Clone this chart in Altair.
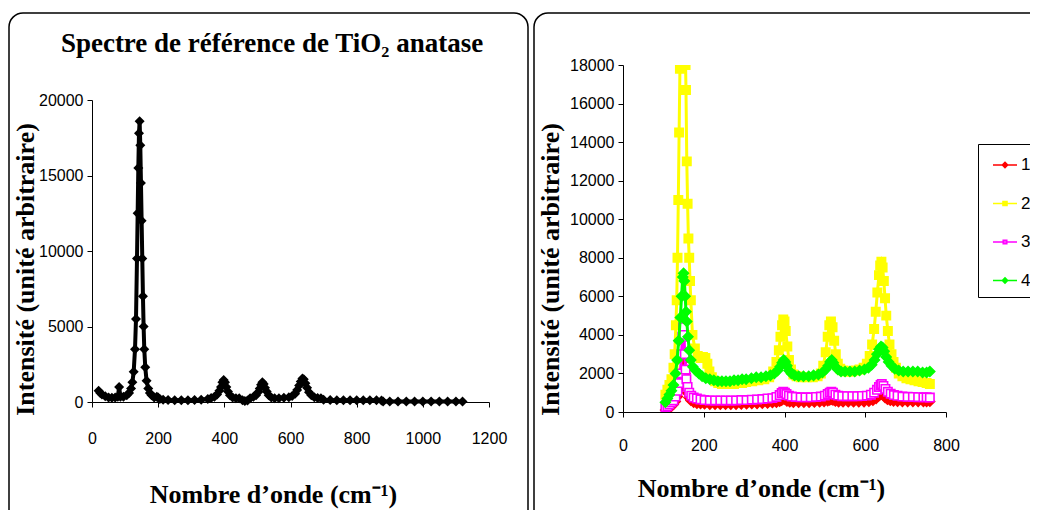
import altair as alt
import pandas as pd

# ---------------- data ----------------
REF_X = [20, 25, 30, 40, 50, 60, 70, 78, 82, 86,
         95, 105, 112, 118, 122, 126, 130, 133, 136, 138,
         140, 142, 144, 146, 148, 150, 152, 154, 156, 158,
         161, 165, 170, 175, 180, 188, 196, 200, 205, 215,
         230, 250, 270, 290, 310, 330, 350, 360, 370, 378,
         385, 390, 394, 398, 402, 406, 411, 417, 425, 435,
         445, 455, 462, 470, 478, 488, 496, 502, 507, 511,
         515, 519, 523, 528, 534, 542, 552, 565, 580, 595,
         605, 614, 620, 626, 631, 636, 640, 645, 650, 656,
         663, 672, 682, 692, 700, 720, 740, 760, 780, 800,
         820, 840, 860, 875, 880, 900, 925, 950, 975, 1000,
         1025, 1050, 1075, 1100, 1120]
REF_Y = [750, 600, 500, 380, 300, 280, 300, 350, 1000, 350,
         350, 450, 600, 900, 1300, 2000, 3500, 5500, 9500, 12500,
         15500, 17800, 18600, 17000, 14500, 12000, 9500, 7000, 5000, 3500,
         2300, 1400, 900, 600, 450, 300, 350, 300, 200, 150,
         130, 120, 120, 120, 130, 150, 200, 260, 350, 500,
         750, 1000, 1300, 1450, 1300, 1000, 700, 450, 300, 250,
         250, 120, 60, 100, 250, 350, 450, 650, 900, 1150,
         1300, 1200, 950, 700, 450, 300, 250, 250, 280, 320,
         400, 550, 800, 1100, 1350, 1550, 1500, 1250, 950, 650,
         450, 320, 260, 250, 150, 130, 120, 120, 120, 120,
         120, 120, 120, 100, 40, 40, 40, 40, 40, 40,
         40, 40, 40, 40, 40]

S1_X = [105, 110, 115, 120, 125, 130, 135, 140, 144, 147,
        150, 152, 154, 156, 159, 163, 168, 175, 183, 192,
        202, 215, 228, 241, 254, 267, 280, 293, 306, 319,
        332, 345, 358, 370, 380, 388, 393, 397, 401, 406,
        413, 422, 435, 448, 461, 474, 487, 498, 507, 512,
        516, 520, 526, 534, 545, 558, 571, 584, 597, 609,
        619, 627, 633, 637, 640, 644, 649, 655, 662, 670,
        680, 692, 705, 718, 731, 744, 752, 760]
S1_Y = [100, 150, 200, 300, 400, 550, 800, 1200, 2000, 2800,
        3000, 2700, 2000, 1400, 1000, 750, 600, 500, 450, 430,
        420, 400, 400, 400, 400, 400, 400, 410, 420, 430,
        440, 450, 460, 480, 500, 550, 600, 680, 650, 560,
        520, 500, 500, 500, 500, 510, 520, 540, 580, 620,
        650, 620, 560, 530, 520, 520, 520, 520, 530, 550,
        600, 700, 820, 900, 950, 880, 750, 650, 600, 570,
        550, 540, 540, 540, 540, 540, 540, 550]

S2_X = [105, 110, 115, 120, 125, 128, 131, 133, 135, 137,
        139, 141, 143, 150, 155, 156, 158, 160, 162, 164,
        166, 168, 172, 178, 185, 192, 198, 204, 209, 214,
        220, 228, 236, 245, 255, 265, 275, 285, 295, 305,
        320, 335, 350, 362, 372, 380, 386, 390, 394, 397,
        400, 403, 407, 411, 416, 422, 430, 440, 455, 470,
        482, 490, 496, 502, 507, 511, 515, 519, 523, 527,
        532, 538, 546, 556, 566, 576, 586, 596, 604, 611,
        617, 622, 626, 630, 634, 637, 640, 643, 646, 649,
        652, 656, 660, 665, 670, 676, 683, 692, 702, 712,
        722, 732, 742, 752, 760]
S2_Y = [900, 1150, 1400, 1700, 2300, 3000, 4500, 5800, 8000, 11000,
        14500, 17800, 21000, 23000, 18000, 16700, 13000, 10800, 9000, 8000,
        6800, 5800, 4000, 3300, 2900, 2800, 2850, 2800, 2500, 2100,
        1800, 1600, 1500, 1450, 1450, 1450, 1450, 1500, 1500, 1550,
        1600, 1650, 1700, 1800, 2100, 2600, 3200, 3900, 4500, 4800,
        4700, 4200, 3400, 2700, 2200, 1950, 1850, 1800, 1800, 1800,
        1850, 2000, 2400, 3100, 3900, 4500, 4700, 4400, 3700, 3000,
        2500, 2250, 2150, 2100, 2100, 2150, 2200, 2300, 2500, 2900,
        3500, 4300, 5200, 6200, 7100, 7600, 7800, 7500, 6800, 5900,
        5000, 4200, 3500, 3000, 2600, 2300, 2000, 1850, 1750, 1700,
        1650, 1600, 1550, 1500, 1450]

S3_X = [105, 110, 115, 120, 125, 130, 135, 139, 142, 145,
        147, 149, 151, 153, 155, 157, 160, 164, 169, 175,
        183, 192, 202, 215, 228, 241, 254, 267, 280, 293,
        306, 319, 332, 345, 358, 370, 380, 388, 393, 397,
        401, 405, 411, 418, 428, 440, 452, 465, 478, 490,
        500, 507, 512, 516, 520, 526, 533, 543, 555, 568,
        580, 592, 604, 614, 622, 629, 634, 638, 641, 645,
        650, 656, 663, 671, 680, 692, 705, 718, 731, 744,
        752, 760]
S3_Y = [250, 300, 400, 500, 600, 800, 1100, 1500, 2000, 3000,
        3900, 4400, 4000, 3000, 2200, 1700, 1300, 1000, 850, 750,
        700, 650, 620, 600, 600, 600, 600, 600, 600, 620,
        620, 640, 650, 670, 700, 720, 780, 880, 980, 1050,
        1000, 930, 850, 800, 780, 760, 760, 760, 780, 800,
        850, 930, 1000, 1050, 1000, 900, 850, 820, 820, 820,
        820, 830, 850, 900, 1000, 1150, 1300, 1400, 1450, 1350,
        1200, 1050, 950, 880, 840, 800, 790, 780, 770, 760,
        760, 750]

S4_X = [105, 110, 115, 120, 125, 130, 134, 138, 142, 145,
        148, 150, 152, 154, 156, 158, 161, 164, 168, 173,
        180, 188, 196, 205, 215, 225, 235, 245, 255, 265,
        275, 285, 295, 305, 318, 330, 342, 354, 365, 375,
        383, 389, 394, 398, 402, 406, 411, 417, 425, 435,
        447, 460, 472, 484, 494, 502, 508, 513, 517, 521,
        526, 532, 540, 550, 562, 574, 586, 598, 608, 616,
        623, 629, 634, 639, 643, 647, 652, 658, 665, 673,
        683, 694, 706, 718, 730, 742, 752, 760]
S4_Y = [500, 700, 900, 1100, 1400, 2000, 2700, 3700, 4900, 6000,
        7000, 7200, 6800, 6000, 5200, 4700, 3900, 3200, 2700, 2350,
        2150, 2000, 1850, 1750, 1700, 1650, 1600, 1600, 1600, 1600,
        1650, 1650, 1700, 1700, 1750, 1800, 1800, 1850, 1900, 2000,
        2150, 2350, 2550, 2700, 2600, 2400, 2150, 2000, 1900, 1850,
        1850, 1850, 1900, 1950, 2050, 2200, 2400, 2600, 2700, 2550,
        2350, 2200, 2100, 2100, 2100, 2100, 2150, 2200, 2300, 2450,
        2700, 3000, 3250, 3400, 3350, 3150, 2850, 2600, 2400, 2250,
        2150, 2100, 2100, 2100, 2100, 2050, 2050, 2100]

SERIES = ["1", "2", "3", "4"]
LEFT_XTICKS = [0, 200, 400, 600, 800, 1000, 1200]
LEFT_YTICKS = [0, 5000, 10000, 15000, 20000]
RIGHT_XTICKS = [0, 200, 400, 600, 800]
RIGHT_YTICKS = [0, 2000, 4000, 6000, 8000, 10000, 12000, 14000, 16000, 18000]

TITLE_LEFT = "Spectre de référence de TiO₂ anatase"
XTITLE = "Nombre d’onde (cm⁻¹)"
YTITLE = "Intensité (unité arbitraire)"

# ---------------- styles ----------------
NUM_FONT = "Liberation Sans Narrow, Arial Narrow, Liberation Sans, sans-serif"
SERIF = "Liberation Serif, Times New Roman, serif"
STROKES = ["#FF0000", "#FFFF00", "#FF00FF", "#00FF00"]
FILLS = ["#FF0000", "#FFFF00", "#FFFFFF", "#00FF00"]
LEG_PATHS = [
    "M-1,0H1M0,-0.22L0.22,0L0,0.22L-0.22,0Z",
    "M-1,0H1M-0.17,-0.17H0.17V0.17H-0.17Z",
    "M-1,0H1M-0.15,-0.15H0.15V0.15H-0.15Z",
    "M-1,0H1M0,-0.22L0.22,0L0,0.22L-0.22,0Z",
]
MARK_SHAPES = ["diamond", "square", "square", "diamond"]
MARK_SIZES = [90, 70, 70, 95]
PLOT_H = 347


def axis(values, title, label_pad, title_x, title_y, **kw):
    return alt.Axis(values=values, format="d", grid=False, title=title,
                    domainColor="black", tickColor="black", tickSize=5,
                    labelFont=NUM_FONT, labelFontSize=16, labelColor="black",
                    labelPadding=label_pad, labelFlush=False, labelOverlap=False,
                    titleFont=SERIF, titleFontSize=26, titleFontWeight="bold",
                    titleColor="black", titleX=title_x, titleY=title_y,
                    titleBaseline="alphabetic", titleAlign="center", **kw)


def frame(x1, x2, y1, y2):
    return alt.Chart(pd.DataFrame({"k": [0]})).mark_rect(
        fillOpacity=0, stroke="black", strokeWidth=1.5, cornerRadius=14
    ).encode(x=alt.value(x1), x2=alt.value(x2), y=alt.value(y1), y2=alt.value(y2))


# ---------------- left panel ----------------
ref = pd.DataFrame({"x": REF_X, "y": REF_Y})
lx = alt.X("x:Q", scale=alt.Scale(domain=[0, 1200], nice=False),
           axis=axis(LEFT_XTICKS, XTITLE, 23, 181, 100, offset=-10))
ly = alt.Y("y:Q", scale=alt.Scale(domain=[0, 20000], nice=False, range=[337, 35]),
           axis=axis(LEFT_YTICKS, YTITLE, 4, -59, 204))

left_line = alt.Chart(ref).mark_line(color="black", strokeWidth=4).encode(x=lx, y=ly)
left_pts = alt.Chart(ref).mark_point(shape="diamond", filled=True, color="black",
                                     size=100, opacity=1).encode(x=lx, y=ly)
left_title = alt.Chart(pd.DataFrame({"k": [0]})).mark_text(
    text=TITLE_LEFT, font=SERIF, fontSize=27, fontWeight="bold", color="black",
    align="center", baseline="alphabetic"
).encode(x=alt.value(180), y=alt.value(-13))

left = alt.layer(frame(-83, 436, -52, 465), left_line, left_pts, left_title).properties(
    width=397, height=PLOT_H)

# ---------------- right panel ----------------
parts = []
for name, xs, ys in zip(SERIES, [S1_X, S2_X, S3_X, S4_X], [S1_Y, S2_Y, S3_Y, S4_Y]):
    parts.append(pd.DataFrame({"x": xs, "y": ys, "s": name}))
spec = pd.concat(parts, ignore_index=True)

rx = alt.X("x:Q", scale=alt.Scale(domain=[0, 800], nice=False),
           axis=axis(RIGHT_XTICKS, XTITLE, 20, 138, 84))
ry = alt.Y("y:Q", scale=alt.Scale(domain=[0, 18000], nice=False),
           axis=axis(RIGHT_YTICKS, YTITLE, 4, -65, 204))

layers = [frame(-89, 440, -52, 465)]
for i, name in enumerate(SERIES):
    sub = alt.Chart(spec).transform_filter(alt.datum.s == name)
    layers.append(sub.mark_line(color=STROKES[i], strokeWidth=3, clip=True).encode(x=rx, y=ry))
    layers.append(sub.mark_point(shape=MARK_SHAPES[i], filled=True, fill=FILLS[i],
                                 stroke=STROKES[i], strokeWidth=1.6, opacity=1,
                                 size=MARK_SIZES[i], clip=True).encode(x=rx, y=ry))

legend_layer = alt.Chart(spec).transform_filter("false").mark_point(
    filled=True, strokeWidth=1.5, opacity=1
).encode(
    fill=alt.Fill("s:N", scale=alt.Scale(domain=SERIES, range=FILLS), legend=alt.Legend(title=None)),
    stroke=alt.Stroke("s:N", scale=alt.Scale(domain=SERIES, range=STROKES), legend=alt.Legend(title=None)),
    shape=alt.Shape("s:N", scale=alt.Scale(domain=SERIES, range=LEG_PATHS), legend=alt.Legend(title=None)),
)
layers.append(legend_layer)

right = alt.layer(*layers).properties(width=323, height=PLOT_H)

chart = alt.hconcat(left, right, spacing=4).resolve_scale(
    fill="independent", stroke="independent", shape="independent"
).resolve_legend(
    fill="independent", stroke="independent", shape="independent"
).properties(
    padding={"left": 0, "top": 4, "right": -34, "bottom": -21},
    background="white",
).configure_view(stroke=None).configure_legend(
    orient="none", legendX=355, legendY=79, padding=8,
    strokeColor="black", fillColor="white",
    symbolSize=576, symbolStrokeWidth=1.5, symbolOffset=6,
    labelOffset=3, labelFont=NUM_FONT, labelFontSize=17, labelColor="black",
    rowPadding=17.5,
)

chart.save("out.html", embed_options={"renderer": "svg", "actions": False})
